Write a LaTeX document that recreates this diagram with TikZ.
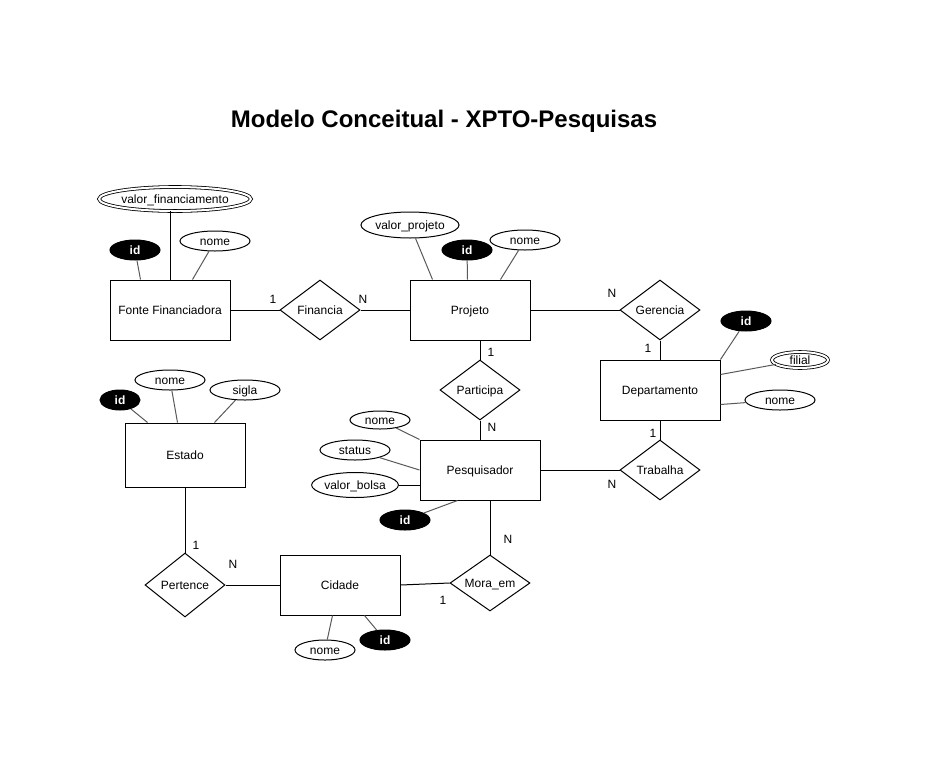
\documentclass[tikz,border=0pt]{standalone}
\usepackage{fontspec}
\setmainfont{Liberation Sans}
\usetikzlibrary{shapes.geometric,calc}
\definecolor{attrline}{HTML}{595959}
\begin{document}
\begin{tikzpicture}[x=1pt,y=-1pt,
  every node/.style={font=\fontsize{12}{14}\selectfont},
  entity/.style={draw,line width=1pt,rectangle,minimum width=120,minimum height=60,inner sep=0,text height=8.6pt,text depth=0pt},
  rel/.style={draw,line width=1pt,diamond,aspect=1.333,minimum width=80,minimum height=60,inner sep=0,text height=8.6pt,text depth=0pt},
  attr/.style={draw,line width=1pt,ellipse,inner sep=0,minimum height=20,text height=8.6pt,text depth=0pt},
  keyattr/.style={attr,fill=black,text=white,font=\fontsize{12}{14}\selectfont\bfseries},
  multiattr/.style={attr,double,double distance=2pt,line width=0.8pt},
  conn/.style={line width=1pt},
  aconn/.style={line width=1pt,attrline},
  card/.style={inner sep=0,font=\fontsize{12}{14}\selectfont}
]
\useasboundingbox (0,0) rectangle (931,761);
\node[font=\fontsize{24}{28}\selectfont\bfseries] (title) at (444,121) {Modelo Conceitual - XPTO-Pesquisas};

% Entities
\node[entity] (ff) at (170,310) {Fonte Financiadora};
\node[entity] (pj) at (470,310) {Projeto};
\node[entity] (dp) at (660,390) {Departamento};
\node[entity,minimum height=64] (es) at (185,455) {Estado};
\node[entity] (ps) at (480,470) {Pesquisador};
\node[entity] (cd) at (340,585) {Cidade};

% Relationships
\node[rel] (fin) at (320,310) {Financia};
\node[rel] (ger) at (660,310) {Gerencia};
\node[rel] (par) at (480,390) {Participa};
\node[rel] (tra) at (660,470) {Trabalha};
\node[rel,minimum height=56] (mor) at (490,583) {Mora\_em};
\node[rel,minimum height=64] (per) at (185,585) {Pertence};

% Attributes
\node[multiattr,minimum width=128,minimum height=24] (vf) at (175,199) {valor\_financiamento};
\node[keyattr,minimum width=50] (idff) at (135,250) {id};
\node[attr,minimum width=70] (nomeff) at (215,241) {nome};

\node[attr,minimum width=80,minimum height=26] (vp) at (410,225) {valor\_projeto};
\node[keyattr,minimum width=50] (idpj) at (467,250) {id};
\node[attr,minimum width=70] (nomepj) at (525,240) {nome};

\node[keyattr,minimum width=50] (iddp) at (746,321) {id};
\node[multiattr,minimum width=56,minimum height=16] (filial) at (800,360) {filial};
\node[attr,minimum width=70] (nomedp) at (780,400) {nome};

\node[keyattr,minimum width=40] (ides) at (120,400) {id};
\node[attr,minimum width=70] (nomees) at (170,380) {nome};
\node[attr,minimum width=70] (sigla) at (245,390) {sigla};

\node[attr,minimum width=60,minimum height=18] (nomeps) at (380,420) {nome};
\node[attr,minimum width=70] (status) at (355,450) {status};
\node[attr,minimum width=80,minimum height=25] (vb) at (355,485) {valor\_bolsa};
\node[keyattr,minimum width=50] (idps) at (405,520) {id};

\node[attr,minimum width=60] (nomecd) at (325,650) {nome};
\node[keyattr,minimum width=50] (idcd) at (385,640) {id};

% Attribute connectors
\draw[conn] (ff.north) -- (ff.north |- vf.south);
\draw[aconn] (idff) -- ($(ff.north west)+(31,0)$);
\draw[aconn] (nomeff) -- ($(ff.north west)+(83,0)$);

\draw[aconn] (vp) -- ($(pj.north west)+(23,0)$);
\draw[aconn] (idpj) -- ($(pj.north west)+(58,0)$);
\draw[aconn] (nomepj) -- ($(pj.north west)+(91,0)$);

\draw[aconn] (iddp) -- (dp.north east);
\draw[aconn] (filial) -- ($(dp.north east)+(0,15)$);
\draw[aconn] (nomedp) -- ($(dp.north east)+(0,45)$);

\draw[aconn] (ides) -- ($(es.north west)+(23,0)$);
\draw[aconn] (nomees) -- ($(es.north west)+(53,0)$);
\draw[aconn] (sigla) -- ($(es.north west)+(90,0)$);

\draw[aconn] (nomeps) -- (ps.north west);
\draw[aconn] (status) -- (ps.west);
\draw[conn] (vb.east) -- ($(ps.west)+(0,15)$);
\draw[aconn] (idps) -- ($(ps.south west)+(38,0)$);

\draw[aconn] (nomecd) -- ($(cd.south west)+(53,0)$);
\draw[aconn] (idcd) -- ($(cd.south west)+(85,0)$);

% Relationship connectors
\draw[conn] (ff.east) -- (fin.west);
\draw[conn] (fin.east) -- (pj.west);
\draw[conn] (pj.east) -- (ger.west);
\draw[conn] (ger.south) -- (dp.north);
\draw[conn] (par.north |- pj.south) -- (par.north);
\draw[conn] (par.south) -- (ps.north);
\draw[conn] (dp.south) -- (tra.north);
\draw[conn] (ps.east) -- (tra.west);
\draw[conn] (mor.north |- ps.south) -- (mor.north);
\draw[conn] (cd.east) -- (mor.west);
\draw[conn] (es.south) -- (per.north);
\draw[conn] (per.east) -- (cd.west);

% Cardinalities
\node[card] (c1) at (273,299) {1};
\node[card] (c2) at (363,299) {N};
\node[card] (c3) at (612,293) {N};
\node[card] (c4) at (648,348) {1};
\node[card] (c5) at (491,352) {1};
\node[card] (c6) at (492,427) {N};
\node[card] (c7) at (653,433) {1};
\node[card] (c8) at (612,484) {N};
\node[card] (c9) at (508,539) {N};
\node[card] (c10) at (443,600) {1};
\node[card] (c11) at (233,564) {N};
\node[card] (c12) at (196,545) {1};
\end{tikzpicture}
\end{document}
